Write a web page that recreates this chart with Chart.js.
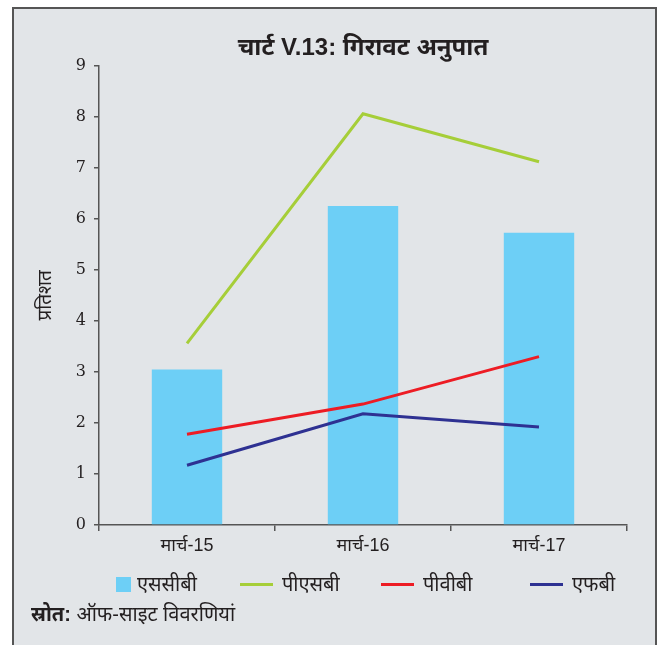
<!DOCTYPE html>
<html>
<head>
<meta charset="utf-8">
<script src="https://cdn.jsdelivr.net/npm/chart.js@4.4.0/dist/chart.umd.min.js"></script>
<style>
  html, body { margin: 0; padding: 0; background: #ffffff; }
  body { width: 662px; height: 645px; position: relative; overflow: hidden;
         font-family: "Liberation Sans", "Noto Sans", sans-serif; color: #231f20; }
  #frame { position: absolute; left: 12px; top: 7px; width: 641px; height: 660px;
           background: #e2e5e8; border: 2px solid #555; border-bottom: none; }
  #wrap { position: absolute; left: 0; top: 0; width: 662px; height: 645px; }
  #legend { position: absolute; left: 0; top: 572px; width: 662px; height: 24px; font-size: 20px; }
  .item { position: absolute; top: 0; display: flex; align-items: center; height: 24px; line-height: 24px; }
  .box { width: 15px; height: 15px; margin-right: 6px; }
  .line { width: 33px; height: 3px; margin-right: 9px; }
  #source { position: absolute; left: 31px; top: 601px; font-size: 20px; line-height: 26px; }
  #source b { font-weight: bold; }
</style>
</head>
<body>
<div id="frame"></div>
<div id="wrap"><canvas id="c" width="662" height="645"></canvas></div>
<div id="legend"></div>
<div id="source"><b>स्रोत:</b> ऑफ-साइट विवरणियां</div>
<script>
const categories = ["मार्च-15", "मार्च-16", "मार्च-17"];
const seriesNames = ["एससीबी", "पीएसबी", "पीवीबी", "एफबी"];
const scb = [3.05, 6.25, 5.73];
const psb = [3.56, 8.06, 7.12];
const pvb = [1.78, 2.37, 3.30];
const fb  = [1.17, 2.18, 1.92];
const yTicks = [0, 1, 2, 3, 4, 5, 6, 7, 8, 9];
const titleText = "चार्ट V.13: गिरावट अनुपात";
const yTitle = "प्रतिशत";

const colors = ["#6dcff6", "#a6ce39", "#ed1c24", "#2e3192"];
const axisColor = "#555555";

const ctx = document.getElementById("c");
new Chart(ctx, {
  type: "bar",
  data: {
    labels: categories,
    datasets: [
      { label: seriesNames[0], data: scb, backgroundColor: colors[0], borderWidth: 0,
        barPercentage: 0.4, categoryPercentage: 1.0, order: 5 },
      { type: "line", label: seriesNames[1], data: psb, borderColor: colors[1], borderWidth: 3,
        pointRadius: 0, tension: 0, fill: false, order: 1 },
      { type: "line", label: seriesNames[2], data: pvb, borderColor: colors[2], borderWidth: 3,
        pointRadius: 0, tension: 0, fill: false, order: 2 },
      { type: "line", label: seriesNames[3], data: fb, borderColor: colors[3], borderWidth: 3,
        pointRadius: 0, tension: 0, fill: false, order: 3 }
    ]
  },
  options: {
    responsive: false,
    animation: false,
    layout: { padding: { left: 0, right: 35, top: 0, bottom: 90 } },
    plugins: {
      legend: { display: false },
      tooltip: { enabled: false },
      title: {
        display: true, text: titleText, color: "#231f20", fullSize: false,
        font: { family: "Liberation Sans, Noto Sans, sans-serif", size: 24, weight: "bold", lineHeight: 1.2 },
        padding: { top: 34, bottom: 3 }
      }
    },
    scales: {
      x: {
        offset: true,
        grid: { display: true, drawOnChartArea: false, drawTicks: true, tickLength: 6,
                color: axisColor, lineWidth: 1.5, offset: true },
        border: { display: true, color: axisColor, width: 1.5 },
        ticks: { color: "#231f20", padding: 4,
                 font: { family: "Liberation Sans, Noto Sans, sans-serif", size: 18 } },
        afterFit: s => { s.height = 30; }
      },
      y: {
        min: 0, max: 9,
        afterBuildTicks: s => { s.ticks = yTicks.map(v => ({ value: v })); },
        grid: { display: true, drawOnChartArea: false, drawTicks: true, tickLength: 5,
                color: axisColor, lineWidth: 1.5 },
        border: { display: true, color: axisColor, width: 1.5 },
        ticks: { color: "#231f20", padding: 8,
                 font: { family: "DejaVu Serif, Liberation Serif, serif", size: 16 } },
        title: { display: true, text: yTitle, color: "#231f20",
                 font: { family: "Liberation Sans, Noto Sans, sans-serif", size: 19, lineHeight: 1.2 },
                 padding: { top: 34, bottom: 0 } },
        afterFit: s => { s.width = 99; }
      }
    }
  }
});

// HTML legend built from the series names/colours
const legendPos = [116, 240, 381, 530];
const legend = document.getElementById("legend");
seriesNames.forEach((name, i) => {
  const it = document.createElement("div");
  it.className = "item";
  it.style.left = legendPos[i] + "px";
  const sw = document.createElement("div");
  sw.className = i === 0 ? "box" : "line";
  sw.style.background = colors[i];
  const tx = document.createElement("span");
  tx.textContent = name;
  it.appendChild(sw); it.appendChild(tx);
  legend.appendChild(it);
});
</script>
</body>
</html>
